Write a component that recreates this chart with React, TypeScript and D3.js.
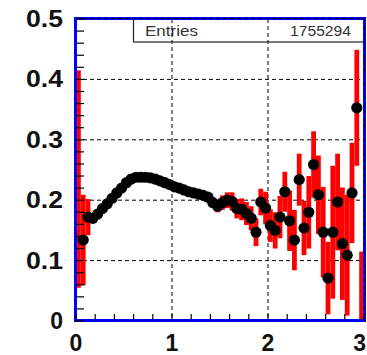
import React from 'react';
import * as d3 from 'd3';

// bin centres (60 bins, 0..3)
const binCenters = [
  0.025, 0.075, 0.125, 0.175, 0.225, 0.275, 0.325, 0.375, 0.425, 0.475,
  0.525, 0.575, 0.625, 0.675, 0.725, 0.775, 0.825, 0.875, 0.925, 0.975,
  1.025, 1.075, 1.125, 1.175, 1.225, 1.275, 1.325, 1.375, 1.425, 1.475,
  1.525, 1.575, 1.625, 1.675, 1.725, 1.775, 1.825, 1.875, 1.925, 1.975,
  2.025, 2.075, 2.125, 2.175, 2.225, 2.275, 2.325, 2.375, 2.425, 2.475,
  2.525, 2.575, 2.625, 2.675, 2.725, 2.775, 2.825, 2.875, 2.925, 2.975,
];

// bin contents
const values = [
  0.235, 0.134, 0.172, 0.170, 0.177, 0.186, 0.194, 0.203, 0.212, 0.220,
  0.229, 0.235, 0.238, 0.238, 0.238, 0.237, 0.235, 0.232, 0.229, 0.226,
  0.222, 0.220, 0.217, 0.214, 0.212, 0.210, 0.208, 0.205, 0.196, 0.190,
  0.196, 0.200, 0.198, 0.186, 0.185, 0.178, 0.170, 0.147, 0.197, 0.187,
  0.158, 0.150, 0.172, 0.214, 0.166, 0.134, 0.234, 0.154, 0.180, 0.259,
  0.209, 0.147, 0.071, 0.147, 0.197, 0.128, 0.109, 0.212, 0.353, 0.0,
];

// bin errors
const errors = [
  0.180, 0.075, 0.030, 0.008, 0.006, 0.005, 0.005, 0.005, 0.005, 0.005,
  0.005, 0.005, 0.005, 0.005, 0.005, 0.005, 0.005, 0.005, 0.005, 0.005,
  0.006, 0.006, 0.006, 0.006, 0.006, 0.007, 0.007, 0.007, 0.009, 0.010,
  0.012, 0.013, 0.015, 0.016, 0.018, 0.019, 0.020, 0.023, 0.022, 0.027,
  0.027, 0.030, 0.035, 0.033, 0.050, 0.050, 0.043, 0.045, 0.060, 0.055,
  0.065, 0.075, 0.060, 0.110, 0.080, 0.093, 0.100, 0.083, 0.096, 0.115,
];

// bins drawn without a marker
const noMarker = [0.025, 2.975];

const xTicks = [0, 1, 2, 3];
const yTicks = [0, 0.1, 0.2, 0.3, 0.4, 0.5];
const entries = '1755294';

const W = 367;
const H = 355;
const m = { left: 76, right: 364, top: 19, bottom: 321 };
const font = '"Liberation Sans", Arial, Helvetica, sans-serif';

export default function App() {
  const x = d3.scaleLinear().domain([0, 3]).range([m.left, m.right]);
  const y = d3.scaleLinear().domain([0, 0.5]).range([m.bottom, m.top]);

  const minorY = d3.range(0, 0.5001, 0.02);
  const minorX = d3.range(0, 3.0001, 0.2);

  const bins = binCenters.map((c, i) => ({ c, v: values[i], e: errors[i] }));

  return (
    <svg
      width={W}
      height={H}
      style={{ position: 'absolute', left: 0, top: 0, background: '#fff' }}
    >
      <defs>
        <clipPath id="frame">
          <rect x={m.left} y={m.top} width={m.right - m.left} height={m.bottom - m.top} />
        </clipPath>
      </defs>

      {/* stats box */}
      <rect x={133.5} y={m.top} width={m.right - 133.5} height={23} fill="#fff" stroke="#222" strokeWidth={1.2} />
      <text x={145} y={36} fontFamily={font} fontSize={14} fill="#333" textLength={53} lengthAdjust="spacingAndGlyphs">
        Entries
      </text>
      <text x={290} y={36} fontFamily={font} fontSize={14} fill="#333" textLength={61} lengthAdjust="spacingAndGlyphs">
        {entries}
      </text>

      {/* grid */}
      {xTicks.slice(1).map(t => (
        <line key={'gx' + t} x1={x(t)} x2={x(t)} y1={m.top} y2={m.bottom} stroke="#000" strokeWidth={1} strokeDasharray="4,3" />
      ))}
      {yTicks.slice(1).map(t => (
        <line key={'gy' + t} x1={m.left} x2={m.right} y1={y(t)} y2={y(t)} stroke="#000" strokeWidth={1} strokeDasharray="4,3" />
      ))}

      {/* error bars + markers */}
      <g clipPath="url(#frame)">
        {bins.map((b, i) => (
          <rect
            key={'e' + i}
            x={x(b.c) - 2.4}
            width={4.8}
            y={y(b.v + b.e)}
            height={y(b.v - b.e) - y(b.v + b.e)}
            fill="#ff0000"
          />
        ))}
        {bins
          .filter(b => !noMarker.includes(b.c))
          .map((b, i) => (
            <circle key={'p' + i} cx={x(b.c)} cy={y(b.v)} r={5.6} fill="#000" />
          ))}
      </g>

      {/* frame */}
      <rect
        x={m.left - 0.5}
        y={m.top - 0.5}
        width={m.right - m.left + 1}
        height={m.bottom - m.top}
        fill="none"
        stroke="#0000ff"
        strokeWidth={3}
      />
      <line x1={m.left} x2={m.right} y1={m.top - 0.5} y2={m.top - 0.5} stroke="#000" strokeWidth={1} strokeDasharray="4,3" />
      <line x1={m.right + 0.5} x2={m.right + 0.5} y1={m.top} y2={m.bottom} stroke="#000" strokeWidth={1} strokeDasharray="4,3" />

      {/* ticks */}
      {minorY.map((t, i) => (
        <line key={'ty' + i} x1={m.left} x2={m.left + 8} y1={y(t)} y2={y(t)} stroke="#000" strokeWidth={1.2} />
      ))}
      {minorX.map((t, i) => (
        <line key={'tx' + i} x1={x(t)} x2={x(t)} y1={m.bottom} y2={m.bottom - 7} stroke="#000" strokeWidth={1.2} />
      ))}

      {/* tick labels */}
      {yTicks.map(t =>
        t === 0 ? (
          <text key={'ly' + t} x={63} y={y(t) + 8} textAnchor="end" fontFamily={font} fontWeight="bold" fontSize={23} fill="#111">
            0
          </text>
        ) : (
          <text
            key={'ly' + t}
            x={26}
            y={y(t) + 8}
            fontFamily={font}
            fontWeight="bold"
            fontSize={23}
            fill="#111"
            textLength={37}
            lengthAdjust="spacingAndGlyphs"
          >
            {d3.format('.1f')(t)}
          </text>
        )
      )}
      {xTicks.map(t => {
        const last = t === xTicks[xTicks.length - 1];
        return (
          <text
            key={'lx' + t}
            x={last ? W - 1 : x(t)}
            y={351}
            textAnchor={last ? 'end' : 'middle'}
            fontFamily={font}
            fontWeight="bold"
            fontSize={23}
            fill="#111"
          >
            {t}
          </text>
        );
      })}
    </svg>
  );
}
